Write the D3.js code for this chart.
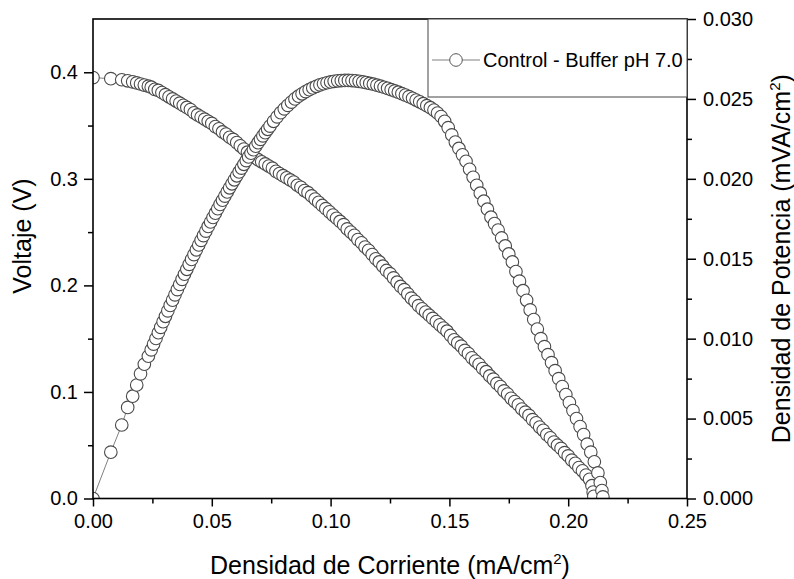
<!DOCTYPE html>
<html>
<head>
<meta charset="utf-8">
<script src="https://cdn.jsdelivr.net/npm/d3@7"></script>
<style>
  body { margin: 0; background: #fff; }
  text { font-family: "Liberation Sans", Arial, sans-serif; fill: #000; }
</style>
</head>
<body>
<svg id="chart" width="794" height="579"></svg>
<script>
// Curva de polarización: corriente (mA/cm2) y voltaje (V)
const corrienteV = [0, 0.0075, 0.0121, 0.0146, 0.0167, 0.0184, 0.0200, 0.0216, 0.0233,
  0.0245, 0.0260, 0.0275, 0.0290, 0.0305, 0.0320, 0.0335, 0.0350, 0.0365, 0.0380,
  0.0395, 0.0410, 0.0425, 0.0440, 0.0455, 0.0470, 0.0485, 0.0500, 0.0515, 0.0530,
  0.0545, 0.0560, 0.0575, 0.0590, 0.0605, 0.0620, 0.0635, 0.0650, 0.0665, 0.0680,
  0.0695, 0.0710, 0.0725, 0.0740, 0.0755, 0.0770, 0.0785, 0.0800, 0.0815, 0.0830,
  0.0845, 0.0860, 0.0875, 0.0890, 0.0905, 0.0920, 0.0935, 0.0950, 0.0965, 0.0980,
  0.0995, 0.1010, 0.1025, 0.1040, 0.1055, 0.1070, 0.1085, 0.1100, 0.1115, 0.1130,
  0.1145, 0.1160, 0.1175, 0.1190, 0.1205, 0.1220, 0.1235, 0.1250, 0.1265, 0.1280,
  0.1295, 0.1310, 0.1325, 0.1340, 0.1355, 0.1370, 0.1385, 0.1400, 0.1415, 0.1430,
  0.1445, 0.1460, 0.1475, 0.1490, 0.1505, 0.1520, 0.1535, 0.1550, 0.1565, 0.1580,
  0.1595, 0.1610, 0.1625, 0.1640, 0.1655, 0.1670, 0.1685, 0.1700, 0.1715, 0.1730,
  0.1745, 0.1760, 0.1775, 0.1790, 0.1805, 0.1820, 0.1835, 0.1850, 0.1865, 0.1880,
  0.1895, 0.1910, 0.1925, 0.1940, 0.1955, 0.1970, 0.1985, 0.2000, 0.2015, 0.2030,
  0.2045, 0.2060, 0.2075, 0.2090, 0.2100, 0.2105, 0.2108];
const voltaje = [0.395, 0.394, 0.393, 0.392, 0.391, 0.390, 0.389, 0.388, 0.387,
  0.386, 0.384, 0.383, 0.381, 0.379, 0.377, 0.375, 0.373, 0.371, 0.369,
  0.367, 0.365, 0.362, 0.360, 0.358, 0.356, 0.354, 0.352, 0.349, 0.347,
  0.344, 0.342, 0.339, 0.337, 0.334, 0.331, 0.328, 0.325, 0.322, 0.320,
  0.318, 0.316, 0.314, 0.312, 0.310, 0.307, 0.305, 0.303, 0.301, 0.299,
  0.297, 0.294, 0.292, 0.289, 0.287, 0.284, 0.281, 0.278, 0.275, 0.272,
  0.269, 0.266, 0.263, 0.260, 0.257, 0.253, 0.250, 0.247, 0.243, 0.240,
  0.236, 0.233, 0.229, 0.225, 0.222, 0.218, 0.214, 0.211, 0.207, 0.203,
  0.199, 0.196, 0.192, 0.188, 0.185, 0.181, 0.178, 0.175, 0.172, 0.169,
  0.166, 0.163, 0.160, 0.157, 0.153, 0.149, 0.146, 0.143, 0.139, 0.136,
  0.132, 0.129, 0.126, 0.122, 0.119, 0.115, 0.112, 0.108, 0.105, 0.101,
  0.098, 0.094, 0.091, 0.088, 0.084, 0.081, 0.078, 0.074, 0.071, 0.067,
  0.064, 0.060, 0.057, 0.053, 0.050, 0.047, 0.043, 0.040, 0.036, 0.033,
  0.029, 0.026, 0.022, 0.018, 0.012, 0.006, 0.002];

// Curva de potencia: corriente (mA/cm2) y densidad de potencia (mVA/cm2)
const corrienteP = [0, 0.0075, 0.0121, 0.0146, 0.0167, 0.0184, 0.0200, 0.0216, 0.0233,
  0.0245, 0.0255, 0.0265, 0.0275, 0.0285, 0.0295, 0.0305, 0.0315, 0.0325, 0.0335,
  0.0345, 0.0355, 0.0365, 0.0375, 0.0385, 0.0395, 0.0405, 0.0415, 0.0425, 0.0435,
  0.0445, 0.0455, 0.0465, 0.0475, 0.0485, 0.0495, 0.0505, 0.0515, 0.0525, 0.0535,
  0.0545, 0.0555, 0.0565, 0.0575, 0.0585, 0.0595, 0.0605, 0.0615, 0.0625, 0.0635,
  0.0645, 0.0655, 0.0665, 0.0675, 0.0685, 0.0695, 0.0705, 0.0715, 0.0725, 0.0735,
  0.0745, 0.0760, 0.0775, 0.0790, 0.0805, 0.0820, 0.0835, 0.0850, 0.0865, 0.0880,
  0.0895, 0.0910, 0.0925, 0.0940, 0.0955, 0.0970, 0.0985, 0.1000, 0.1015, 0.1030,
  0.1045, 0.1060, 0.1075, 0.1090, 0.1105, 0.1120, 0.1135, 0.1150, 0.1165, 0.1180,
  0.1195, 0.1210, 0.1225, 0.1240, 0.1255, 0.1270, 0.1285, 0.1300, 0.1315, 0.1330,
  0.1345, 0.1360, 0.1375, 0.1390, 0.1405, 0.1420, 0.1435, 0.1450, 0.1465, 0.1480,
  0.1495, 0.1510, 0.1525, 0.1540, 0.1555, 0.1570, 0.1585, 0.1600, 0.1615, 0.1630,
  0.1645, 0.1660, 0.1675, 0.1690, 0.1705, 0.1720, 0.1735, 0.1750, 0.1765, 0.1780,
  0.1795, 0.1810, 0.1825, 0.1840, 0.1855, 0.1870, 0.1885, 0.1900, 0.1915, 0.1930,
  0.1945, 0.1960, 0.1975, 0.1990, 0.2005, 0.2020, 0.2035, 0.2050, 0.2065, 0.2080,
  0.2095, 0.2110, 0.2125, 0.2135, 0.2142, 0.2146];
const potencia = [0, 0.0029, 0.0046, 0.0057, 0.0064, 0.0071, 0.0078, 0.0084, 0.0089,
  0.00930, 0.00966, 0.01001, 0.01037, 0.01071, 0.01106, 0.01140, 0.01174, 0.01208, 0.01241,
  0.01274, 0.01307, 0.01339, 0.01371, 0.01403, 0.01434, 0.01465, 0.01496, 0.01526, 0.01556,
  0.01586, 0.01615, 0.01645, 0.01673, 0.01702, 0.01730, 0.01758, 0.01785, 0.01813, 0.01840,
  0.01866, 0.01892, 0.01918, 0.01944, 0.01969, 0.01994, 0.02019, 0.02043, 0.02067, 0.02091,
  0.02114, 0.02137, 0.02160, 0.02182, 0.02204, 0.02226, 0.02247, 0.02269, 0.02289, 0.02310,
  0.02330, 0.02360, 0.02388, 0.02414, 0.02438, 0.02460, 0.02480, 0.02500, 0.02517, 0.02532,
  0.02546, 0.02558, 0.02569, 0.02579, 0.02588, 0.02595, 0.02601, 0.02606, 0.02610, 0.02613,
  0.02615, 0.02616, 0.02616, 0.02615, 0.02613, 0.02610, 0.02606, 0.02602, 0.02597, 0.02592,
  0.02586, 0.02580, 0.02573, 0.02566, 0.02558, 0.02550, 0.02542, 0.02533, 0.02524, 0.02514,
  0.02504, 0.02493, 0.02482, 0.02470, 0.02458, 0.02445, 0.02430, 0.02412, 0.02390, 0.02360,
  0.02320, 0.02275, 0.02230, 0.02190, 0.02150, 0.02110, 0.02060, 0.02010, 0.01960, 0.01910,
  0.0186, 0.0181, 0.0176, 0.0172, 0.0168, 0.0163, 0.0158, 0.0153, 0.0148, 0.0142,
  0.0136, 0.0130, 0.0124, 0.0118, 0.0112, 0.0106, 0.0100, 0.0095, 0.0090, 0.0085,
  0.0080, 0.0075, 0.0070, 0.0065, 0.0060, 0.0055, 0.0050, 0.0045, 0.0040, 0.0034,
  0.0029, 0.0023, 0.0016, 0.0010, 0.0005, 0.0001];

// Ticks
const ticksX = [0, 0.05, 0.10, 0.15, 0.20, 0.25];
const ticksXmenor = [0.025, 0.075, 0.125, 0.175, 0.225];
const ticksV = [0, 0.1, 0.2, 0.3, 0.4];
const ticksVmenor = [0.05, 0.15, 0.25, 0.35];
const ticksP = [0, 0.005, 0.010, 0.015, 0.020, 0.025, 0.030];
const ticksPmenor = [0.0025, 0.0075, 0.0125, 0.0175, 0.0225, 0.0275];

const etiquetaSerie = "Control - Buffer pH 7.0";

// SVG setup
const svg = d3.select("#chart"),
      margin = {top: 19, right: 107, bottom: 80.5, left: 93},
      width = +svg.attr("width") - margin.left - margin.right,
      height = +svg.attr("height") - margin.top - margin.bottom;

const g = svg.append("g")
             .attr("transform", `translate(${margin.left},${margin.top})`);

// Scales
const x = d3.scaleLinear().domain([0, 0.25]).range([0, width]);
const yV = d3.scaleLinear().domain([0, 0.45]).range([height, 0]);
const yP = d3.scaleLinear().domain([0, 0.030]).range([height, 0]);

g.append("clipPath").attr("id", "clip")
  .append("rect").attr("width", width).attr("height", height);

const serieV = corrienteV.map((c, i) => ({x: c, y: voltaje[i]}));
const serieP = corrienteP.map((c, i) => ({x: c, y: potencia[i]}));

const area = g.append("g").attr("clip-path", "url(#clip)");

function dibujarSerie(datos, escalaY) {
  area.append("path")
    .datum(datos)
    .attr("fill", "none")
    .attr("stroke", "#808080")
    .attr("stroke-width", 1)
    .attr("d", d3.line().x(d => x(d.x)).y(d => escalaY(d.y)));

  area.append("g").selectAll("circle")
    .data(datos)
    .enter().append("circle")
      .attr("cx", d => x(d.x))
      .attr("cy", d => escalaY(d.y))
      .attr("r", 6.3)
      .attr("fill", "#fff")
      .attr("stroke", "#4a4a4a")
      .attr("stroke-width", 1.1);
}

dibujarSerie(serieV, yV);
dibujarSerie(serieP, yP);

// --- Axes ---
function estiloEje(sel) {
  sel.select(".domain").remove();
  sel.selectAll("line").attr("stroke", "#000").attr("stroke-width", 1.5);
  sel.selectAll("text").style("font-size", "20px");
}

g.append("g")
 .attr("transform", `translate(0,${height})`)
 .call(d3.axisBottom(x).tickValues(ticksX).tickSize(8).tickPadding(7).tickFormat(d3.format(".2f")))
 .call(estiloEje);
g.append("g")
 .attr("transform", `translate(0,${height})`)
 .call(d3.axisBottom(x).tickValues(ticksXmenor).tickSize(5).tickFormat(""))
 .call(estiloEje);

g.append("g")
 .call(d3.axisLeft(yV).tickValues(ticksV).tickSize(9).tickPadding(6).tickFormat(d3.format(".1f")))
 .call(estiloEje);
g.append("g")
 .call(d3.axisLeft(yV).tickValues(ticksVmenor).tickSize(5).tickFormat(""))
 .call(estiloEje);

g.append("g")
 .attr("transform", `translate(${width},0)`)
 .call(d3.axisRight(yP).tickValues(ticksP).tickSize(9).tickPadding(7).tickFormat(d3.format(".3f")))
 .call(estiloEje);
g.append("g")
 .attr("transform", `translate(${width},0)`)
 .call(d3.axisRight(yP).tickValues(ticksPmenor).tickSize(5).tickFormat(""))
 .call(estiloEje);

// marco
g.append("rect")
 .attr("width", width).attr("height", height)
 .attr("fill", "none").attr("stroke", "#000").attr("stroke-width", 1.6);

// --- Titles ---
const tx = svg.append("text")
  .attr("x", margin.left + width / 2).attr("y", 574)
  .attr("text-anchor", "middle").style("font-size", "25px");
tx.append("tspan").text("Densidad de Corriente (mA/cm");
tx.append("tspan").attr("dy", -10).style("font-size", "15px").text("2");
tx.append("tspan").attr("dy", 10).text(")");

svg.append("text")
  .attr("transform", "translate(31,236) rotate(-90)")
  .attr("text-anchor", "middle").style("font-size", "25px")
  .text("Voltaje (V)");

const ty = svg.append("text")
  .attr("transform", `translate(790,${margin.top + height / 2}) rotate(-90)`)
  .attr("text-anchor", "middle").style("font-size", "25px");
ty.append("tspan").text("Densidad de Potencia (mVA/cm");
ty.append("tspan").attr("dy", -10).style("font-size", "15px").text("2");
ty.append("tspan").attr("dy", 10).text(")");

// --- Legend ---
const legend = svg.append("g").attr("transform", `translate(428,${margin.top})`);
legend.append("rect")
  .attr("width", margin.left + width - 428).attr("height", 78)
  .attr("fill", "#fff").attr("stroke", "#444").attr("stroke-width", 1);
legend.append("line")
  .attr("x1", 4).attr("x2", 52).attr("y1", 41).attr("y2", 41)
  .attr("stroke", "#808080").attr("stroke-width", 1);
legend.append("circle")
  .attr("cx", 28).attr("cy", 41).attr("r", 6.3)
  .attr("fill", "#fff").attr("stroke", "#555");
legend.append("text")
  .attr("x", 55).attr("y", 47.5)
  .style("font-size", "20px")
  .text(etiquetaSerie);
</script>
</body>
</html>
